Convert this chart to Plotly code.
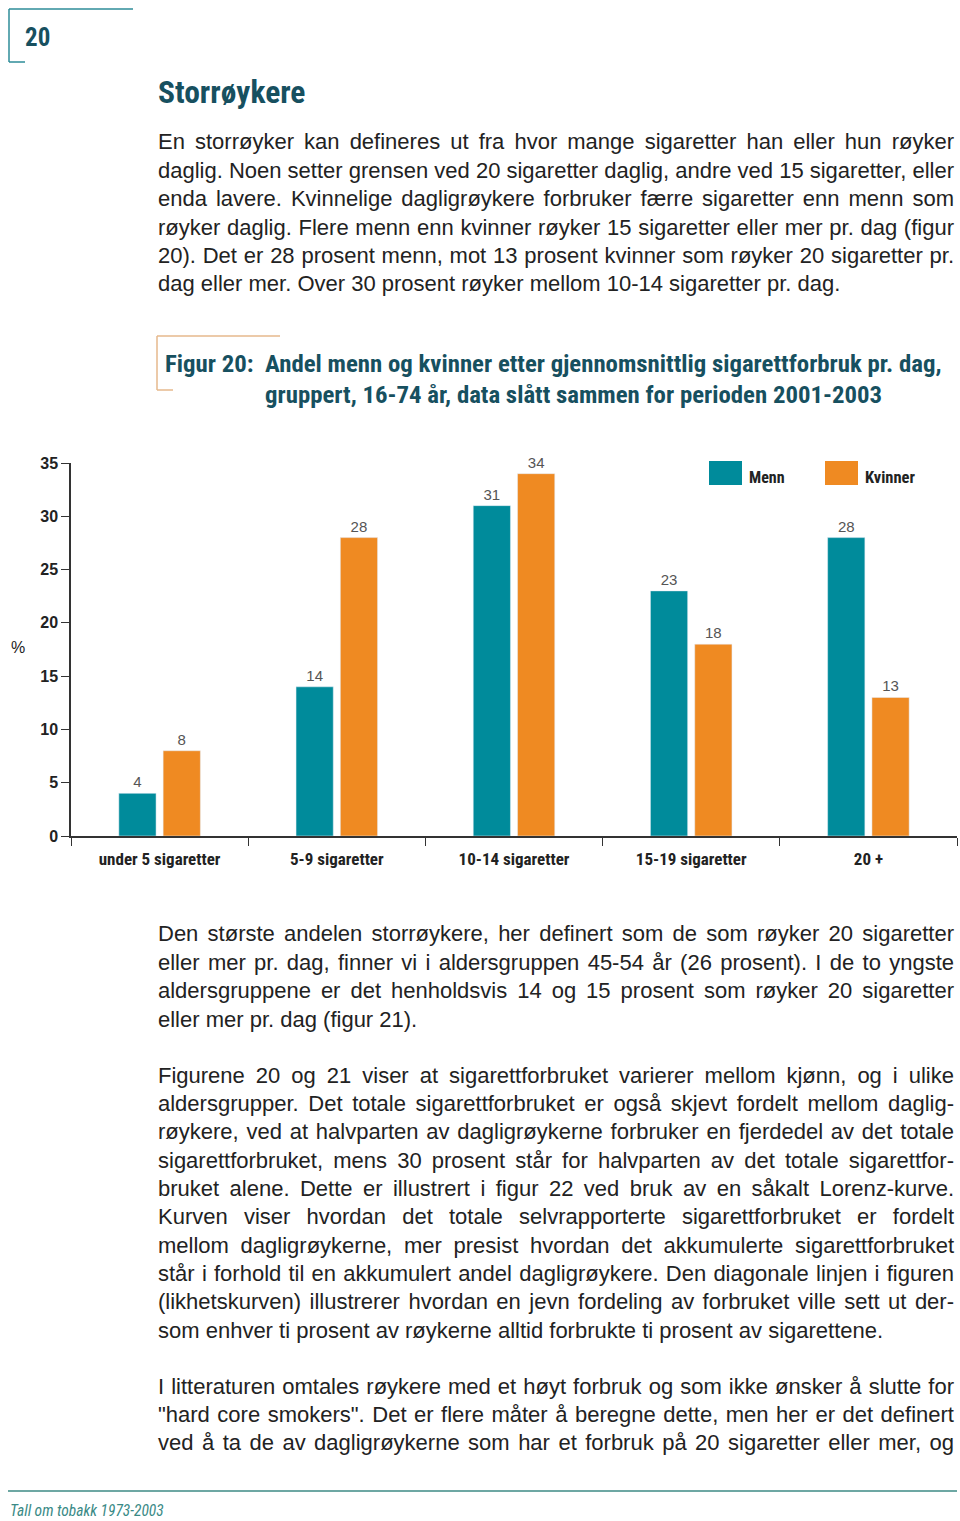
import json
import plotly.graph_objects as go

# Figur 20 data
categories = ["under 5 sigaretter", "5-9 sigaretter", "10-14 sigaretter", "15-19 sigaretter", "20 +"]
series_names = ["Menn", "Kvinner"]
menn = [4, 14, 31, 23, 28]
kvinner = [8, 28, 34, 18, 13]
y_ticks = [0, 5, 10, 15, 20, 25, 30, 35]

heading = "Storrøykere"
page_no = "20"
footer = "Tall om tobakk 1973-2003"
caption_label = "Figur 20:"
caption_lines = ["Andel menn og kvinner etter gjennomsnittlig sigarettforbruk pr. dag,",
                 "gruppert, 16-74 år, data slått sammen for perioden 2001-2003"]

para1 = ["En storrøyker kan defineres ut fra hvor mange sigaretter han eller hun røyker",
         "daglig. Noen setter grensen ved 20 sigaretter daglig, andre ved 15 sigaretter, eller",
         "enda lavere. Kvinnelige dagligrøykere forbruker færre sigaretter enn menn som",
         "røyker daglig. Flere menn enn kvinner røyker 15 sigaretter eller mer pr. dag (figur",
         "20). Det er 28 prosent menn, mot 13 prosent kvinner som røyker 20 sigaretter pr.",
         "dag eller mer. Over 30 prosent røyker mellom 10-14 sigaretter pr. dag."]
para2 = ["Den største andelen storrøykere, her definert som de som røyker 20 sigaretter",
         "eller mer pr. dag, finner vi i aldersgruppen 45-54 år (26 prosent). I de to yngste",
         "aldersgruppene er det henholdsvis 14 og 15 prosent som røyker 20 sigaretter",
         "eller mer pr. dag (figur 21)."]
para3 = ["Figurene 20 og 21 viser at sigarettforbruket varierer mellom kjønn, og i ulike",
         "aldersgrupper. Det totale sigarettforbruket er også skjevt fordelt mellom daglig-",
         "røykere, ved at halvparten av dagligrøykerne forbruker en fjerdedel av det totale",
         "sigarettforbruket, mens 30 prosent står for halvparten av det totale sigarettfor-",
         "bruket alene. Dette er illustrert i figur 22 ved bruk av en såkalt Lorenz-kurve.",
         "Kurven viser hvordan det totale selvrapporterte sigarettforbruket er fordelt",
         "mellom dagligrøykerne, mer presist hvordan det akkumulerte sigarettforbruket",
         "står i forhold til en akkumulert andel dagligrøykere. Den diagonale linjen i figuren",
         "(likhetskurven) illustrerer hvordan en jevn fordeling av forbruket ville sett ut der-",
         "som enhver ti prosent av røykerne alltid forbrukte ti prosent av sigarettene."]
para4 = ["I litteraturen omtales røykere med et høyt forbruk og som ikke ønsker å slutte for",
         "\"hard core smokers\". Det er flere måter å beregne dette, men her er det definert",
         "ved å ta de av dagligrøykerne som har et forbruk på 20 sigaretter eller mer, og"]

W, H = 960, 1521
TEAL = "#008b9b"
ORANGE = "#ef8a22"
DARK = "#17505f"
BODY = "Liberation Sans, Arial, sans-serif"
NARROW = "Liberation Sans Narrow, Arial Narrow, Roboto Condensed, DejaVu Sans Condensed, Liberation Sans, sans-serif"


def px(x):
    return x / W


def py(y):
    return 1 - y / H


fig = go.Figure()
fig.add_trace(go.Bar(name=series_names[0], x=categories, y=menn, marker_color=TEAL,
                     text=menn, textposition="outside", cliponaxis=False,
                     textfont=dict(family=BODY, size=15, color="#555555")))
fig.add_trace(go.Bar(name=series_names[1], x=categories, y=kvinner, marker_color=ORANGE,
                     text=kvinner, textposition="outside", cliponaxis=False,
                     textfont=dict(family=BODY, size=15, color="#555555")))

annotations = []
justify = []


def add_text(txt, x, y, size, color="#222222", family=BODY, weight="normal",
             style="normal", just=False):
    if just:
        justify.append(len(annotations))
    annotations.append(dict(text=txt, x=px(x), y=py(y), xref="paper", yref="paper",
                            xanchor="left", yanchor="middle", showarrow=False, align="left",
                            font=dict(family=family, size=size, color=color,
                                      weight=weight, style=style)))


# body text, justified except paragraph ends
for lines, top in [(para1, 142), (para2, 934), (para3, 1075), (para4, 1386)]:
    for i, line in enumerate(lines):
        last = (i == len(lines) - 1) and lines is not para4
        add_text(line, 156, top + i * 28.35, 22, just=not last)

add_text(heading, 156, 92, 31.5, color=DARK, family=NARROW, weight="bold")
add_text(page_no, 23, 37, 25, color=DARK, family=NARROW, weight="bold")
add_text(caption_label, 163, 363, 24.8, color=DARK, family=NARROW, weight="bold")
add_text(caption_lines[0], 263, 363, 24.8, color=DARK, family=NARROW, weight="bold")
add_text(caption_lines[1], 263, 394, 24.8, color=DARK, family=NARROW, weight="bold")
add_text(footer, 8, 1511, 15.5, color="#3a8a86", family=NARROW, style="italic")
add_text("%", 9, 648, 16, color="#222222")

# legend
add_text(series_names[0], 747, 477, 16, family=NARROW, weight="bold")
add_text(series_names[1], 863, 477, 16.5, family=NARROW, weight="bold")

line_teal = dict(color="#2e8c99", width=1.5)
line_tan = dict(color="#e6b98c", width=1.5)
shapes = [
    dict(type="line", xref="paper", yref="paper", x0=px(9), x1=px(133), y0=py(9), y1=py(9), line=line_teal),
    dict(type="line", xref="paper", yref="paper", x0=px(9), x1=px(9), y0=py(9), y1=py(62), line=line_teal),
    dict(type="line", xref="paper", yref="paper", x0=px(9), x1=px(25), y0=py(62), y1=py(62), line=line_teal),
    dict(type="line", xref="paper", yref="paper", x0=px(157), x1=px(280), y0=py(336), y1=py(336), line=line_tan),
    dict(type="line", xref="paper", yref="paper", x0=px(157), x1=px(157), y0=py(336), y1=py(390), line=line_tan),
    dict(type="line", xref="paper", yref="paper", x0=px(157), x1=px(173), y0=py(390), y1=py(390), line=line_tan),
    dict(type="line", xref="paper", yref="paper", x0=px(8), x1=px(957), y0=py(1491), y1=py(1491),
         line=dict(color="#3d8a84", width=1.5)),
    dict(type="rect", xref="paper", yref="paper", x0=px(709), x1=px(742), y0=py(461), y1=py(485),
         fillcolor=TEAL, line=dict(width=0)),
    dict(type="rect", xref="paper", yref="paper", x0=px(825), x1=px(858), y0=py(461), y1=py(485),
         fillcolor=ORANGE, line=dict(width=0)),
]

fig.update_layout(
    width=W, height=H, autosize=False,
    margin=dict(l=0, r=0, t=0, b=0, pad=0, autoexpand=False),
    paper_bgcolor="white", plot_bgcolor="white",
    showlegend=False,
    barmode="group", bargap=0.5, bargroupgap=0.16,
    annotations=annotations, shapes=shapes,
    xaxis=dict(domain=[px(71), px(957)], type="category", tickson="boundaries",
               ticks="outside", ticklen=8, tickcolor="#333333", showline=True,
               linecolor="#333333", linewidth=1.5, showgrid=False, ticklabelstandoff=7,
               tickfont=dict(family=NARROW, size=17, color="#222222", weight="bold")),
    yaxis=dict(domain=[py(836), py(463)], range=[0, 35], tickvals=y_ticks,
               ticks="outside", ticklen=8, tickcolor="#333333", showline=True,
               linecolor="#333333", linewidth=1.5, showgrid=False, zeroline=False,
               tickfont=dict(family=BODY, size=16, color="#222222", weight="bold")),
)

# page styling + justify the body lines to the 796 px text column
post = """
document.body.style.margin = '0';
document.body.style.padding = '0';
document.documentElement.style.overflow = 'hidden';
var gd = document.getElementById('{plot_id}');
var just = %s;
var target = 796;
gd.querySelectorAll('g.annotation').forEach(function(g){
  var i = parseInt(g.getAttribute('data-index'));
  if (just.indexOf(i) < 0) return;
  var t = g.querySelector('text.annotation-text');
  var n = (t.textContent.match(/ /g) || []).length;
  var w = t.getComputedTextLength();
  if (n > 0) t.style.wordSpacing = ((target - w) / n) + 'px';
});
""" % json.dumps(justify)

fig.write_html("out.html", config={"displayModeBar": False}, post_script=post)
